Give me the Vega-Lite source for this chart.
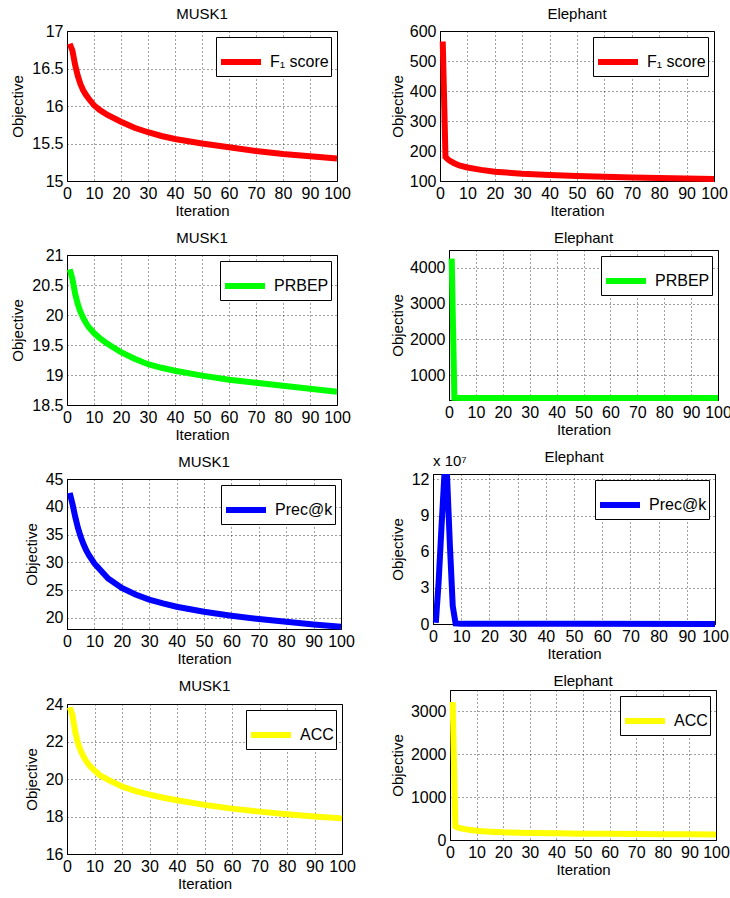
{
  "$schema": "https://vega.github.io/schema/vega-lite/v6.json",
  "padding": {"left": 10, "top": 6, "right": 2, "bottom": 2},
  "config": {
    "font": "Liberation Sans",
    "view": {"stroke": "black", "strokeWidth": 1},
    "title": {"fontSize": 15, "fontWeight": "normal", "color": "black", "offset": 1},
    "axis": {
      "labelFontSize": 16, "titleFontSize": 15, "titleFontWeight": "normal",
      "labelColor": "black", "titleColor": "black", "domainColor": "black",
      "ticks": false, "labelPadding": 4, "format": "~r",
      "grid": true, "gridColor": "black", "gridDash": [1, 3], "gridOpacity": 0.75, "gridWidth": 1
    },
    "axisY": {"titlePadding": 6, "minExtent": 0},
    "axisX": {"titlePadding": 2, "labelFlush": false},
    "legend": {
      "orient": "top-right", "offset": 6, "strokeColor": "black", "fillColor": "white",
      "padding": 2, "symbolType": "stroke", "symbolStrokeWidth": 6, "symbolSize": 1600,
      "labelFontSize": 16, "labelColor": "black", "title": null, "rowPadding": 0, "labelOffset": 6
    },
    "line": {"strokeWidth": 6, "clip": true}
  },
  "columns": 2,
  "align": "none",
  "spacing": {"row": 11, "column": 33},
  "resolve": {"scale": {"color": "independent"}, "legend": {"color": "independent"}},
  "concat": [
    {
      "width": 270, "height": 150,
      "title": "MUSK1",
      "data": {"values": [
        {"iteration": 1, "objective": 16.83, "metric": "F₁ score"},
        {"iteration": 2, "objective": 16.74, "metric": "F₁ score"},
        {"iteration": 3, "objective": 16.55, "metric": "F₁ score"},
        {"iteration": 4, "objective": 16.4, "metric": "F₁ score"},
        {"iteration": 5, "objective": 16.29, "metric": "F₁ score"},
        {"iteration": 6, "objective": 16.21, "metric": "F₁ score"},
        {"iteration": 7, "objective": 16.15, "metric": "F₁ score"},
        {"iteration": 8, "objective": 16.1, "metric": "F₁ score"},
        {"iteration": 10, "objective": 16.01, "metric": "F₁ score"},
        {"iteration": 12, "objective": 15.95, "metric": "F₁ score"},
        {"iteration": 15, "objective": 15.88, "metric": "F₁ score"},
        {"iteration": 20, "objective": 15.79, "metric": "F₁ score"},
        {"iteration": 25, "objective": 15.71, "metric": "F₁ score"},
        {"iteration": 30, "objective": 15.65, "metric": "F₁ score"},
        {"iteration": 35, "objective": 15.6, "metric": "F₁ score"},
        {"iteration": 40, "objective": 15.56, "metric": "F₁ score"},
        {"iteration": 50, "objective": 15.5, "metric": "F₁ score"},
        {"iteration": 60, "objective": 15.45, "metric": "F₁ score"},
        {"iteration": 70, "objective": 15.4, "metric": "F₁ score"},
        {"iteration": 80, "objective": 15.36, "metric": "F₁ score"},
        {"iteration": 90, "objective": 15.33, "metric": "F₁ score"},
        {"iteration": 100, "objective": 15.3, "metric": "F₁ score"}
      ]},
      "mark": {"type": "line"},
      "encoding": {
        "x": {"field": "iteration", "type": "quantitative", "title": "Iteration",
              "scale": {"domain": [0, 100], "nice": false},
              "axis": {"values": [0, 10, 20, 30, 40, 50, 60, 70, 80, 90, 100]}},
        "y": {"field": "objective", "type": "quantitative", "title": "Objective",
              "scale": {"domain": [15, 17], "nice": false, "zero": false},
              "axis": {"values": [15, 15.5, 16, 16.5, 17]}},
        "color": {"field": "metric", "type": "nominal", "scale": {"range": ["#ff0000"]}}
      }
    },
    {
      "width": 274, "height": 150,
      "title": "Elephant",
      "data": {"values": [
        {"iteration": 1, "objective": 565, "metric": "F₁ score"},
        {"iteration": 2, "objective": 180, "metric": "F₁ score"},
        {"iteration": 3, "objective": 171, "metric": "F₁ score"},
        {"iteration": 4, "objective": 165, "metric": "F₁ score"},
        {"iteration": 5, "objective": 160, "metric": "F₁ score"},
        {"iteration": 7, "objective": 152, "metric": "F₁ score"},
        {"iteration": 10, "objective": 145, "metric": "F₁ score"},
        {"iteration": 15, "objective": 137, "metric": "F₁ score"},
        {"iteration": 20, "objective": 131, "metric": "F₁ score"},
        {"iteration": 30, "objective": 124, "metric": "F₁ score"},
        {"iteration": 40, "objective": 120, "metric": "F₁ score"},
        {"iteration": 50, "objective": 117, "metric": "F₁ score"},
        {"iteration": 60, "objective": 114, "metric": "F₁ score"},
        {"iteration": 70, "objective": 112, "metric": "F₁ score"},
        {"iteration": 80, "objective": 110, "metric": "F₁ score"},
        {"iteration": 90, "objective": 108, "metric": "F₁ score"},
        {"iteration": 100, "objective": 107, "metric": "F₁ score"}
      ]},
      "mark": {"type": "line"},
      "encoding": {
        "x": {"field": "iteration", "type": "quantitative", "title": "Iteration",
              "scale": {"domain": [0, 100], "nice": false},
              "axis": {"values": [0, 10, 20, 30, 40, 50, 60, 70, 80, 90, 100]}},
        "y": {"field": "objective", "type": "quantitative", "title": "Objective",
              "scale": {"domain": [100, 600], "nice": false, "zero": false},
              "axis": {"values": [100, 200, 300, 400, 500, 600], "titlePadding": 4}},
        "color": {"field": "metric", "type": "nominal", "scale": {"range": ["#ff0000"]}}
      }
    },
    {
      "width": 270, "height": 150,
      "title": "MUSK1",
      "data": {"values": [
        {"iteration": 1, "objective": 20.76, "metric": "PRBEP"},
        {"iteration": 2, "objective": 20.6, "metric": "PRBEP"},
        {"iteration": 3, "objective": 20.36, "metric": "PRBEP"},
        {"iteration": 4, "objective": 20.18, "metric": "PRBEP"},
        {"iteration": 5, "objective": 20.05, "metric": "PRBEP"},
        {"iteration": 6, "objective": 19.95, "metric": "PRBEP"},
        {"iteration": 7, "objective": 19.87, "metric": "PRBEP"},
        {"iteration": 8, "objective": 19.8, "metric": "PRBEP"},
        {"iteration": 10, "objective": 19.7, "metric": "PRBEP"},
        {"iteration": 12, "objective": 19.62, "metric": "PRBEP"},
        {"iteration": 15, "objective": 19.52, "metric": "PRBEP"},
        {"iteration": 20, "objective": 19.38, "metric": "PRBEP"},
        {"iteration": 25, "objective": 19.27, "metric": "PRBEP"},
        {"iteration": 30, "objective": 19.18, "metric": "PRBEP"},
        {"iteration": 35, "objective": 19.12, "metric": "PRBEP"},
        {"iteration": 40, "objective": 19.07, "metric": "PRBEP"},
        {"iteration": 50, "objective": 18.99, "metric": "PRBEP"},
        {"iteration": 60, "objective": 18.92, "metric": "PRBEP"},
        {"iteration": 70, "objective": 18.87, "metric": "PRBEP"},
        {"iteration": 80, "objective": 18.82, "metric": "PRBEP"},
        {"iteration": 90, "objective": 18.77, "metric": "PRBEP"},
        {"iteration": 100, "objective": 18.72, "metric": "PRBEP"}
      ]},
      "mark": {"type": "line"},
      "encoding": {
        "x": {"field": "iteration", "type": "quantitative", "title": "Iteration",
              "scale": {"domain": [0, 100], "nice": false},
              "axis": {"values": [0, 10, 20, 30, 40, 50, 60, 70, 80, 90, 100]}},
        "y": {"field": "objective", "type": "quantitative", "title": "Objective",
              "scale": {"domain": [18.5, 21], "nice": false, "zero": false},
              "axis": {"values": [18.5, 19, 19.5, 20, 20.5, 21]}},
        "color": {"field": "metric", "type": "nominal", "scale": {"range": ["#00ff00"]}}
      }
    },
    {
      "width": 269, "height": 150,
      "title": "Elephant",
      "data": {"values": [
        {"iteration": 1, "objective": 4260, "metric": "PRBEP"},
        {"iteration": 2, "objective": 372, "metric": "PRBEP"},
        {"iteration": 5, "objective": 368, "metric": "PRBEP"},
        {"iteration": 10, "objective": 366, "metric": "PRBEP"},
        {"iteration": 20, "objective": 365, "metric": "PRBEP"},
        {"iteration": 50, "objective": 364, "metric": "PRBEP"},
        {"iteration": 100, "objective": 363, "metric": "PRBEP"}
      ]},
      "mark": {"type": "line"},
      "encoding": {
        "x": {"field": "iteration", "type": "quantitative", "title": "Iteration",
              "scale": {"domain": [0, 100], "nice": false},
              "axis": {"values": [0, 10, 20, 30, 40, 50, 60, 70, 80, 90, 100]}},
        "y": {"field": "objective", "type": "quantitative", "title": "Objective",
              "scale": {"domain": [310, 4500], "nice": false, "zero": false},
              "axis": {"values": [1000, 2000, 3000, 4000], "titlePadding": 4}},
        "color": {"field": "metric", "type": "nominal", "scale": {"range": ["#00ff00"]}}
      }
    },
    {
      "width": 274, "height": 150,
      "title": "MUSK1",
      "data": {"values": [
        {"iteration": 1, "objective": 42.5, "metric": "Prec@k"},
        {"iteration": 2, "objective": 40.5, "metric": "Prec@k"},
        {"iteration": 3, "objective": 38.2, "metric": "Prec@k"},
        {"iteration": 4, "objective": 36.2, "metric": "Prec@k"},
        {"iteration": 5, "objective": 34.6, "metric": "Prec@k"},
        {"iteration": 6, "objective": 33.3, "metric": "Prec@k"},
        {"iteration": 7, "objective": 32.2, "metric": "Prec@k"},
        {"iteration": 8, "objective": 31.3, "metric": "Prec@k"},
        {"iteration": 10, "objective": 29.8, "metric": "Prec@k"},
        {"iteration": 12, "objective": 28.7, "metric": "Prec@k"},
        {"iteration": 15, "objective": 27.1, "metric": "Prec@k"},
        {"iteration": 20, "objective": 25.4, "metric": "Prec@k"},
        {"iteration": 25, "objective": 24.2, "metric": "Prec@k"},
        {"iteration": 30, "objective": 23.3, "metric": "Prec@k"},
        {"iteration": 35, "objective": 22.6, "metric": "Prec@k"},
        {"iteration": 40, "objective": 22.0, "metric": "Prec@k"},
        {"iteration": 50, "objective": 21.1, "metric": "Prec@k"},
        {"iteration": 60, "objective": 20.4, "metric": "Prec@k"},
        {"iteration": 70, "objective": 19.8, "metric": "Prec@k"},
        {"iteration": 80, "objective": 19.3, "metric": "Prec@k"},
        {"iteration": 90, "objective": 18.8, "metric": "Prec@k"},
        {"iteration": 100, "objective": 18.4, "metric": "Prec@k"}
      ]},
      "mark": {"type": "line"},
      "encoding": {
        "x": {"field": "iteration", "type": "quantitative", "title": "Iteration",
              "scale": {"domain": [0, 100], "nice": false},
              "axis": {"values": [0, 10, 20, 30, 40, 50, 60, 70, 80, 90, 100]}},
        "y": {"field": "objective", "type": "quantitative", "title": "Objective",
              "scale": {"domain": [18, 45], "nice": false, "zero": false},
              "axis": {"values": [20, 25, 30, 35, 40, 45]}},
        "color": {"field": "metric", "type": "nominal", "scale": {"range": ["#0000ff"]}}
      }
    },
    {
      "width": 282, "height": 150,
      "title": {"text": "Elephant", "offset": -11},
      "layer": [
        {
          "data": {"values": [
            {"iteration": 1, "objective": 1000000, "metric": "Prec@k"},
            {"iteration": 2, "objective": 35000000, "metric": "Prec@k"},
            {"iteration": 3, "objective": 80000000, "metric": "Prec@k"},
            {"iteration": 4, "objective": 122000000, "metric": "Prec@k"},
            {"iteration": 5, "objective": 122000000, "metric": "Prec@k"},
            {"iteration": 6, "objective": 65000000, "metric": "Prec@k"},
            {"iteration": 7, "objective": 15000000, "metric": "Prec@k"},
            {"iteration": 8, "objective": 500000, "metric": "Prec@k"},
            {"iteration": 10, "objective": 200000, "metric": "Prec@k"},
            {"iteration": 20, "objective": 150000, "metric": "Prec@k"},
            {"iteration": 50, "objective": 120000, "metric": "Prec@k"},
            {"iteration": 100, "objective": 100000, "metric": "Prec@k"}
          ]},
          "mark": {"type": "line"},
          "encoding": {
            "x": {"field": "iteration", "type": "quantitative", "title": "Iteration",
                  "scale": {"domain": [0, 100], "nice": false},
                  "axis": {"values": [0, 10, 20, 30, 40, 50, 60, 70, 80, 90, 100]}},
            "y": {"field": "objective", "type": "quantitative", "title": "Objective",
                  "scale": {"domain": [0, 124500000], "nice": false},
                  "axis": {"values": [0, 30000000, 60000000, 90000000, 120000000], "labelExpr": "format(datum.value / 10000000, 'd')", "titlePadding": 6}},
            "color": {"field": "metric", "type": "nominal", "scale": {"range": ["#0000ff"]}}
          }
        },
        {
          "data": {"values": [{}]},
          "mark": {"type": "text", "align": "left", "baseline": "alphabetic", "dy": -8, "fontSize": 15, "color": "black"},
          "encoding": {
            "x": {"datum": 0, "type": "quantitative", "title": "Iteration",
                  "scale": {"domain": [0, 100], "nice": false},
                  "axis": {"values": [0, 10, 20, 30, 40, 50, 60, 70, 80, 90, 100]}},
            "y": {"datum": 124500000, "type": "quantitative", "title": "Objective",
                  "scale": {"domain": [0, 124500000], "nice": false},
                  "axis": {"values": [0, 30000000, 60000000, 90000000, 120000000], "labelExpr": "format(datum.value / 10000000, 'd')", "titlePadding": 6}},
            "text": {"value": "x 10⁷"}
          }
        }
      ]
    },
    {
      "width": 275, "height": 150,
      "title": "MUSK1",
      "data": {"values": [
        {"iteration": 1, "objective": 23.82, "metric": "ACC"},
        {"iteration": 2, "objective": 23.4, "metric": "ACC"},
        {"iteration": 3, "objective": 22.5, "metric": "ACC"},
        {"iteration": 4, "objective": 21.9, "metric": "ACC"},
        {"iteration": 5, "objective": 21.5, "metric": "ACC"},
        {"iteration": 6, "objective": 21.2, "metric": "ACC"},
        {"iteration": 7, "objective": 20.95, "metric": "ACC"},
        {"iteration": 8, "objective": 20.75, "metric": "ACC"},
        {"iteration": 10, "objective": 20.45, "metric": "ACC"},
        {"iteration": 12, "objective": 20.2, "metric": "ACC"},
        {"iteration": 15, "objective": 19.95, "metric": "ACC"},
        {"iteration": 20, "objective": 19.6, "metric": "ACC"},
        {"iteration": 25, "objective": 19.35, "metric": "ACC"},
        {"iteration": 30, "objective": 19.17, "metric": "ACC"},
        {"iteration": 35, "objective": 19.0, "metric": "ACC"},
        {"iteration": 40, "objective": 18.87, "metric": "ACC"},
        {"iteration": 50, "objective": 18.62, "metric": "ACC"},
        {"iteration": 60, "objective": 18.42, "metric": "ACC"},
        {"iteration": 70, "objective": 18.26, "metric": "ACC"},
        {"iteration": 80, "objective": 18.12, "metric": "ACC"},
        {"iteration": 90, "objective": 18.0, "metric": "ACC"},
        {"iteration": 100, "objective": 17.9, "metric": "ACC"}
      ]},
      "mark": {"type": "line"},
      "encoding": {
        "x": {"field": "iteration", "type": "quantitative", "title": "Iteration",
              "scale": {"domain": [0, 100], "nice": false},
              "axis": {"values": [0, 10, 20, 30, 40, 50, 60, 70, 80, 90, 100]}},
        "y": {"field": "objective", "type": "quantitative", "title": "Objective",
              "scale": {"domain": [16, 24], "nice": false, "zero": false},
              "axis": {"values": [16, 18, 20, 22, 24]}},
        "color": {"field": "metric", "type": "nominal", "scale": {"range": ["#ffff00"]}}
      }
    },
    {
      "width": 266, "height": 150,
      "title": "Elephant",
      "data": {"values": [
        {"iteration": 1, "objective": 3220, "metric": "ACC"},
        {"iteration": 2, "objective": 320, "metric": "ACC"},
        {"iteration": 3, "objective": 290, "metric": "ACC"},
        {"iteration": 5, "objective": 260, "metric": "ACC"},
        {"iteration": 7, "objective": 240, "metric": "ACC"},
        {"iteration": 10, "objective": 215, "metric": "ACC"},
        {"iteration": 15, "objective": 195, "metric": "ACC"},
        {"iteration": 20, "objective": 180, "metric": "ACC"},
        {"iteration": 30, "objective": 165, "metric": "ACC"},
        {"iteration": 40, "objective": 155, "metric": "ACC"},
        {"iteration": 50, "objective": 148, "metric": "ACC"},
        {"iteration": 60, "objective": 143, "metric": "ACC"},
        {"iteration": 70, "objective": 139, "metric": "ACC"},
        {"iteration": 80, "objective": 135, "metric": "ACC"},
        {"iteration": 90, "objective": 132, "metric": "ACC"},
        {"iteration": 100, "objective": 130, "metric": "ACC"}
      ]},
      "mark": {"type": "line"},
      "encoding": {
        "x": {"field": "iteration", "type": "quantitative", "title": "Iteration",
              "scale": {"domain": [0, 100], "nice": false},
              "axis": {"values": [0, 10, 20, 30, 40, 50, 60, 70, 80, 90, 100]}},
        "y": {"field": "objective", "type": "quantitative", "title": "Objective",
              "scale": {"domain": [0, 3500], "nice": false},
              "axis": {"values": [0, 1000, 2000, 3000], "titlePadding": 5}},
        "color": {"field": "metric", "type": "nominal", "scale": {"range": ["#ffff00"]}}
      }
    }
  ]
}
